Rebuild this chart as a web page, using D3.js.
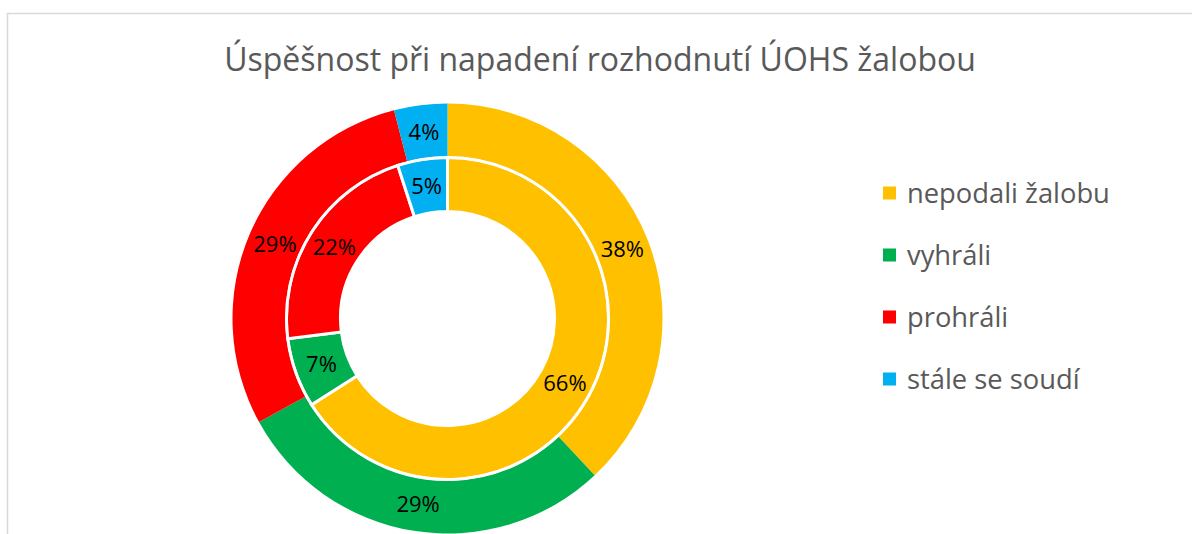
<!DOCTYPE html>
<html>
<head>
<meta charset="utf-8">
<script src="https://cdn.jsdelivr.net/npm/d3@7"></script>
<style>
  html, body { margin: 0; padding: 0; background: #fff; }
  svg { display: block; font-family: "Open Sans", "Noto Sans", sans-serif; }
</style>
</head>
<body>
<svg id="chart" width="1192" height="534"></svg>
<script>
// data
var categories = ["nepodali žalobu", "vyhráli", "prohráli", "stále se soudí"];
var colors = ["#FFC000", "#00B050", "#FF0000", "#00B0F0"];
var outerValues = [38, 29, 29, 4];
var innerValues = [66, 7, 22, 5];
var title = "Úspěšnost při napadení rozhodnutí ÚOHS žalobou";

var svg = d3.select('#chart');

// frame
svg.append('rect')
  .attr('x', 7.5).attr('y', 13.5)
  .attr('width', 1200).attr('height', 600)
  .attr('fill', '#fff')
  .attr('stroke', '#d9d9d9')
  .attr('stroke-width', 1.5);

// helper: shrink/grow font so text hits a target width
function fitWidth(sel, target) {
  var fs = parseFloat(sel.attr('font-size'));
  var w = sel.node().getComputedTextLength();
  sel.attr('font-size', (fs * target / w).toFixed(2) + 'px');
}

var t = svg.append('text')
  .attr('x', 600).attr('y', 71)
  .attr('text-anchor', 'middle')
  .attr('font-size', '30px')
  .attr('fill', '#595959')
  .text(title);
fitWidth(t, 752);

var cx = 447.5, cy = 318.5;
var g = svg.append('g').attr('transform', 'translate(' + cx + ',' + cy + ')');

var pie = d3.pie().sort(null).value(function(d){ return d; });
var color = d3.scaleOrdinal().domain(d3.range(categories.length)).range(colors);

var rings = [
  {values: outerValues, inner: 161, outer: 215, stroke: 0},
  {values: innerValues, inner: 107, outer: 161, stroke: 3}
];

rings.forEach(function(ring){
  var arc = d3.arc().innerRadius(ring.inner).outerRadius(ring.outer);
  var arcs = pie(ring.values);
  var rg = g.append('g');
  rg.selectAll('path')
    .data(arcs)
    .enter()
    .append('path')
    .attr('d', arc)
    .attr('fill', function(d, i){ return color(i); })
    .attr('stroke', ring.stroke ? '#fff' : 'none')
    .attr('stroke-width', ring.stroke);
  rg.selectAll('text')
    .data(arcs)
    .enter()
    .append('text')
    .attr('transform', function(d){ return 'translate(' + arc.centroid(d) + ')'; })
    .attr('text-anchor', 'middle')
    .attr('dy', '0.36em')
    .attr('font-size', '22px')
    .attr('fill', '#000')
    .text(function(d){ return d.data + '%'; });
});

// white separator circle between rings
g.append('circle')
  .attr('r', 161)
  .attr('fill', 'none')
  .attr('stroke', '#fff')
  .attr('stroke-width', 2.5);

// legend
var legendY = d3.scalePoint().domain(categories).range([193, 379]);
var lg = svg.append('g').selectAll('g')
  .data(categories)
  .enter()
  .append('g')
  .attr('transform', function(d){ return 'translate(883,' + legendY(d) + ')'; });
lg.append('rect')
  .attr('x', 0).attr('y', -6.5)
  .attr('width', 13).attr('height', 13)
  .attr('fill', function(d, i){ return color(i); });
var lt = lg.append('text')
  .attr('x', 24).attr('y', 0)
  .attr('dy', '0.35em')
  .attr('font-size', '22px')
  .attr('fill', '#595959')
  .text(function(d){ return d; });
var first = d3.select(lt.nodes()[0]);
var fs0 = parseFloat(first.attr('font-size'));
var scaleF = 203 / first.node().getComputedTextLength();
lt.attr('font-size', (fs0 * scaleF).toFixed(2) + 'px');
</script>
</body>
</html>
